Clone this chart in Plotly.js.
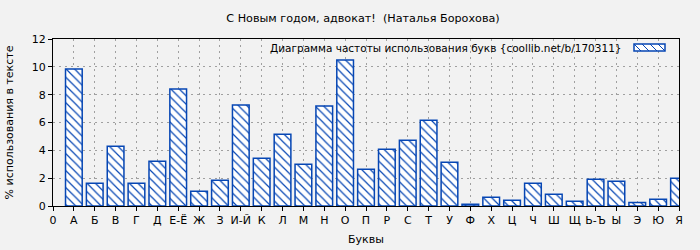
<!DOCTYPE html>
<html>
<head>
<meta charset="utf-8">
<script src="https://cdn.plot.ly/plotly-3.0.1.min.js"></script>
<style>
html,body{margin:0;padding:0;background:#f2f2f2;}
#chart{width:700px;height:250px;}
</style>
</head>
<body>
<div id="chart"></div>
<script>
const letters = ["А","Б","В","Г","Д","Е-Ё","Ж","З","И-Й","К","Л","М","Н","О","П","Р","С","Т","У","Ф","Х","Ц","Ч","Ш","Щ","Ь-Ъ","Ы","Э","Ю","Я"];
const values = [9.84,1.63,4.30,1.63,3.22,8.40,1.06,1.85,7.25,3.43,5.16,3.00,7.18,10.49,2.64,4.08,4.73,6.17,3.14,0.12,0.62,0.41,1.63,0.84,0.34,1.92,1.78,0.26,0.48,1.99];
const tickLabels = ["0"].concat(letters);
const titleText = "С Новым годом, адвокат!  (Наталья Борохова)";
const legendText = "Диаграмма частоты использования букв {coollib.net/b/170311}";
const xTitle = "Буквы";
const yTitle = "% использования в тексте";

const blue = "#0646b4";
const positions = letters.map((_, i) => i + 1);
const tickPositions = tickLabels.map((_, i) => i);

const font = {family: "DejaVu Sans, sans-serif", size: 11, color: "#000"};

const bars = {
  type: "bar",
  x: positions,
  y: values,
  width: 0.8,
  showlegend: false,
  marker: {
    color: "#ffffff",
    line: {color: blue, width: 1.5},
    pattern: {shape: "\\", fgcolor: blue, bgcolor: "#ffffff", size: 6, solidity: 0.2}
  },
  hoverinfo: "x+y"
};

// legend swatch geometry (plot area: x 53..679 px, y 39..206 px)
const PL = 53, PW = 626, PB = 206, PH = 167;
const px = v => (v - PL) / PW;
const py = v => (PB - v) / PH;
const shapes = [
  {type: "rect", xref: "paper", yref: "paper", x0: px(634), x1: px(665), y0: py(51), y1: py(44),
   line: {color: blue, width: 1.5}, fillcolor: "#ffffff", layer: "above"}
];
[634, 642, 650, 658].forEach(s => {
  shapes.push({type: "line", xref: "paper", yref: "paper", x0: px(s), x1: px(s + 7), y0: py(44), y1: py(51),
    line: {color: blue, width: 1}, layer: "above"});
});

const layout = {
  width: 700, height: 250,
  paper_bgcolor: "#f2f2f2",
  plot_bgcolor: "#f2f2f2",
  margin: {l: 53, r: 21, t: 39, b: 44},
  font: font,
  title: {text: titleText, font: Object.assign({}, font, {size: 11.2}), x: 363 / 700, xref: "container", xanchor: "center", y: 1 - 18 / 250, yref: "container", yanchor: "middle"},
  showlegend: false,
  annotations: [
    {text: legendText, xref: "paper", yref: "paper", x: px(624), y: py(47.5), xanchor: "right", yanchor: "middle",
     showarrow: false, font: Object.assign({}, font, {size: 10.5})}
  ],
  shapes: shapes,
  xaxis: {
    range: [0, 30],
    tickmode: "array",
    tickvals: tickPositions,
    ticktext: tickLabels,
    ticks: "outside", ticklen: 4, tickcolor: "#000",
    showline: true, linecolor: "#000", linewidth: 1, mirror: true,
    showgrid: true, gridcolor: "#a0a0a0", griddash: "2px,4px", gridwidth: 1,
    zeroline: false,
    tickfont: font,
    title: {text: xTitle, font: font, standoff: 9}
  },
  yaxis: {
    range: [0, 12],
    dtick: 2,
    ticks: "outside", ticklen: 4, tickcolor: "#000",
    showline: true, linecolor: "#000", linewidth: 1, mirror: true,
    showgrid: true, gridcolor: "#a0a0a0", griddash: "2px,4px", gridwidth: 1,
    zeroline: false,
    tickfont: font,
    title: {text: yTitle, font: font, standoff: 15}
  },
  bargap: 0.2
};

Plotly.newPlot("chart", [bars], layout, {displayModeBar: false, staticPlot: true});
</script>
</body>
</html>
